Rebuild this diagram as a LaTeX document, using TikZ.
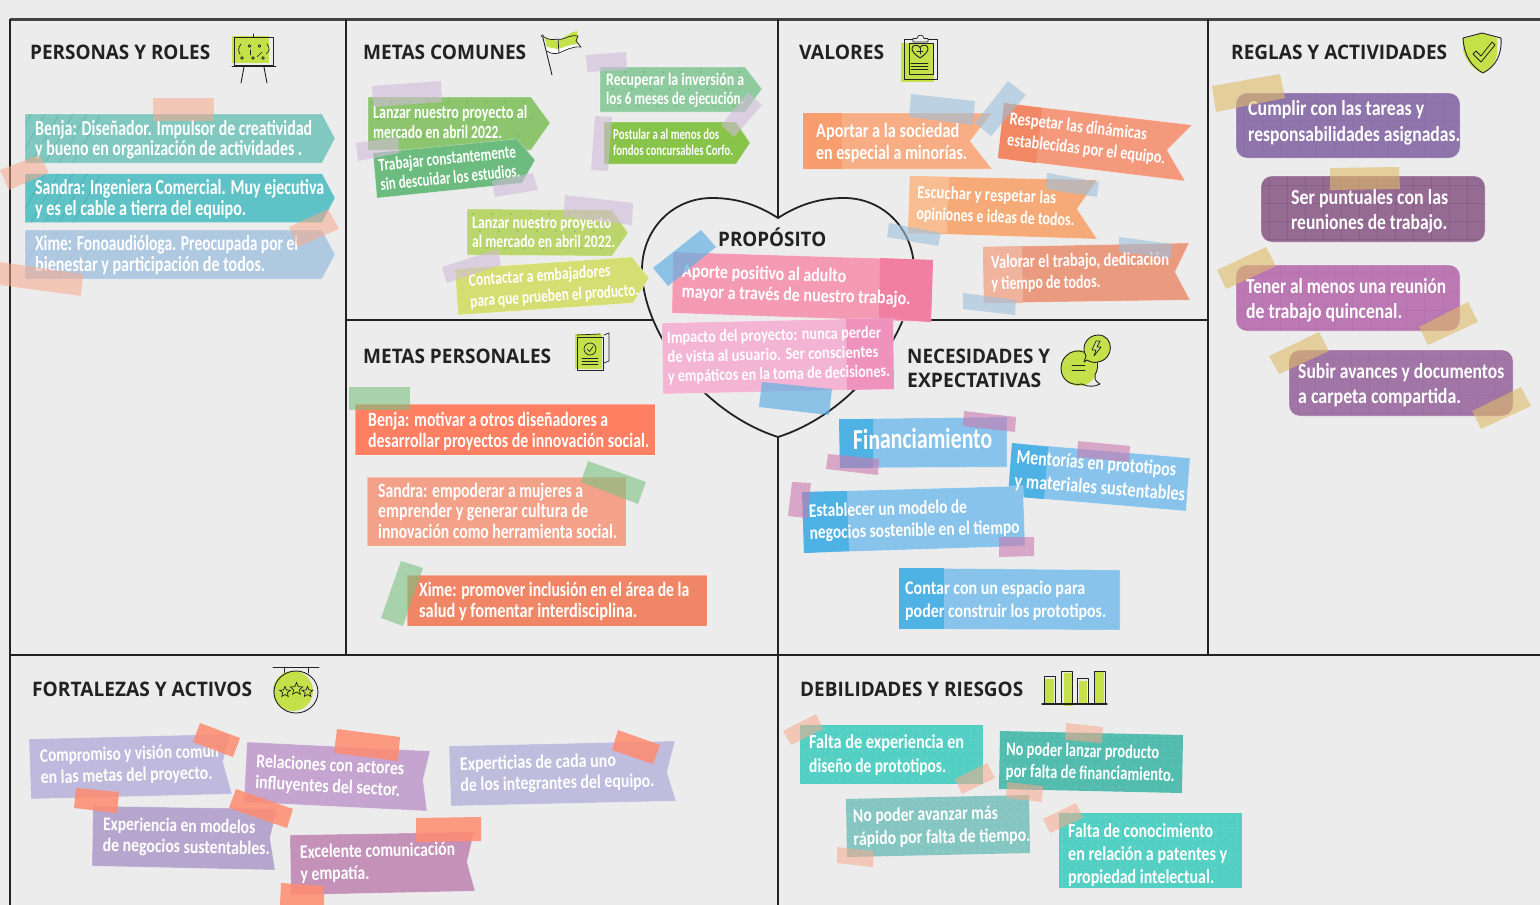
\documentclass[tikz,border=0pt]{standalone}
\usepackage{graphicx}
\usepackage{fontspec}
\newfontfamily\handf{Carlito}
\newfontfamily\headf{Open Sans}
\usetikzlibrary{shapes.geometric}
\definecolor{bgc}{HTML}{ECECEC}
\definecolor{ink}{HTML}{222222}
\definecolor{lime}{HTML}{C5E14A}
\lineskiplimit=-1000pt
\newcommand{\lnw}[2]{\rule{0pt}{14pt}\smash{\resizebox{#1pt}{\height}{#2}}}
% name, x, first baseline y, rotation, size, pitch, lines
\newcommand{\stk}[7]{\path (#2,#3) ++(#4+90:14pt) node[stick,rotate=#4,font={\handf\bfseries\fontsize{\fpeval{#5*1.07}}{#6}\selectfont}] (#1) {#7};}
\newcommand{\hd}[5]{\node[head,font={\headf\bfseries\fontsize{#5}{#5}\selectfont}] (#1) at (#2,#3) {\resizebox{#4pt}{\height}{#1}};}
\tikzset{
 x=1pt,y=-1pt,
 stick/.style={anchor=north west,inner sep=0pt,align=left,text=white},
 head/.style={anchor=base west,inner sep=0pt,text=ink},
 frameln/.style={draw=ink,line width=2.2pt},
 pad/.style={draw=white,draw opacity=.35,line width=.6pt},
 icon/.style={draw=ink,line width=.9pt,line join=round,line cap=round},
 tapeA/.style={fill={rgb,255:red,249;green,169;blue,140},fill opacity=.55},
 tapeP/.style={fill={rgb,255:red,209;green,187;blue,216},fill opacity=.6},
 tapeB/.style={fill={rgb,255:red,156;green,193;blue,221},fill opacity=.6},
 tapeS/.style={fill={rgb,255:red,100;green,177;blue,227},fill opacity=.7},
 tapeT/.style={fill={rgb,255:red,224;green,189;blue,104},fill opacity=.6},
 tapeG/.style={fill={rgb,255:red,121;green,193;blue,128},fill opacity=.6},
 tapeK/.style={fill={rgb,255:red,204;green,121;blue,176},fill opacity=.6},
 tapeO/.style={fill={rgb,255:red,255;green,139;blue,111},fill opacity=.85},
}
\newcommand{\dotsgrid}[4]{\foreach \ix in {0,7.3,...,#3}{\foreach \iy in {0,7.3,...,#4}{\fill[white,fill opacity=.15] (#1+\ix,#2+\iy) circle[radius=1pt];}}}
\newcommand{\greendots}[4]{\foreach \ix in {0,19,...,#3}{\foreach \iy in {0,17,...,#4}{\fill[black!40!green,fill opacity=.3] (#1+\ix+\iy*.4,#2+\iy) circle[radius=1pt];}}}
\newcommand{\hatch}[3]{\foreach \k in {-22,-8,6,20,34,48}{\draw[#3,line width=.5pt,opacity=.3] (#1+\k,#2+49) -- (#1+\k+28,#2);}}
\newcommand{\softgrid}[5]{\begin{scope}\clip[rounded corners=11pt] (#1,#2) rectangle (#3,#4);
\foreach \gx in {0,18,...,230}{\draw[black,opacity=#5,line width=.5pt] (#1+8+\gx,#2) -- (#1+8+\gx,#4);}
\foreach \gy in {0,18,...,70}{\draw[black,opacity=#5,line width=.5pt] (#1,#2+9+\gy) -- (#3,#2+9+\gy);}
\end{scope}}
\begin{document}
\begin{tikzpicture}
\useasboundingbox (0,0) rectangle (1540,905);
\fill[bgc] (0,0) rectangle (1540,905);
% ---- frame
\coordinate (c1) at (10,19.5); \coordinate (c2) at (1540,19.5);
\draw[draw=ink!85,line width=2.2pt] (c1) -- (c2);
\draw[frameln] (10,19) -- (10,905);
\draw[frameln] (346,19) -- (346,655);
\draw[frameln] (778,19) -- (778,905);
\draw[frameln] (1208,19) -- (1208,655);
\draw[frameln] (346,320) -- (1208,320);
\draw[frameln] (10,655) -- (1540,655);
% ---- heart
\draw[draw=ink,line width=1.8pt,fill=bgc] (778,218) .. controls (758,205) and (737,198) .. (712,198) .. controls (672,198) and (642,230) .. (642,270) .. controls (642,330) and (700,412) .. (778,437) .. controls (856,412) and (914,330) .. (914,270) .. controls (914,230) and (884,198) .. (844,198) .. controls (819,198) and (798,205) .. (778,218) -- cycle;
% ---- headings
\hd{PERSONAS Y ROLES}{30}{59}{180}{20}
\hd{METAS COMUNES}{363}{59}{163}{20}
\hd{VALORES}{799}{59}{85}{20}
\hd{REGLAS Y ACTIVIDADES}{1231}{59}{216}{20}
\hd{PROPÓSITO}{718}{246}{108}{20}
\hd{METAS PERSONALES}{363}{363}{188}{20}
\hd{NECESIDADES Y}{907}{363}{143}{20}
\hd{EXPECTATIVAS}{907}{387}{134}{20}
\hd{FORTALEZAS Y ACTIVOS}{32}{696}{220}{20}
\hd{DEBILIDADES Y RIESGOS}{800}{696}{223}{20}
% ---- icon board
\fill[lime] (232,36) rectangle (269,63);
\draw[icon] (234.5,37.5) rectangle (273,65.5);
\draw[icon] (232,66) -- (276,66);
\draw[icon] (244,67) -- (241,83);
\draw[icon] (264,67) -- (267,83);
\draw[icon] (253,34) -- (253,37);
\foreach \p in {(249.5,46),(259.5,46),(242,58),(253,58),(263,58)}{\draw[icon,line width=.7pt] \p circle[radius=1.4pt];}
\draw[icon,line width=.7pt] (241,44) .. controls (238,48) and (238,51) .. (240,54);
\draw[icon,line width=.7pt] (267,44) .. controls (270,48) and (270,51) .. (266,54);
\draw[icon,line width=.7pt] (250,50) -- (250,55);
\draw[icon,line width=.7pt] (257,57) -- (262,52);
% ---- icon flag
\fill[white] (546,46) -- (559,49) -- (559,53) .. controls (555,54) and (551,54) .. (547,51) -- cycle;
\fill[white] (559,47) .. controls (566,46) and (573,44) .. (580,46) -- (581,47) .. controls (573,46) and (566,50) .. (559,53) -- cycle;
\fill[lime] (545,38) -- (558,41) -- (558,49) -- (547,47) -- cycle;
\fill[lime] (558,40) .. controls (565,39) and (570,31) .. (577,31) .. controls (578,36) and (578,40) .. (577,44) .. controls (570,44) and (565,47) .. (558,49) -- cycle;
\draw[icon,line width=.7pt] (544,37) .. controls (549,40) and (553,40) .. (558,39) -- (559,53) .. controls (555,54) and (551,54) .. (547,51);
\draw[icon,line width=.7pt] (558,40) .. controls (565,39) and (572,34) .. (578,36) -- (576,41) -- (581,47) .. controls (573,46) and (566,50) .. (559,53);
\draw[icon] (542.5,36) -- (552,75);
\draw[icon,fill=bgc,line width=.6pt] (542.5,36) circle[radius=1.3pt];
% ---- icon clipboard
\fill[lime] (901,43) rectangle (934,82);
\draw[icon] (904.5,39) rectangle (937,79);
\draw[icon] (909,43) rectangle (933,74);
\draw[icon,fill=bgc,line width=.7pt] (913,42) -- (913,38.5) -- (917,38.5) .. controls (917,34) and (924,34) .. (924,38.5) -- (928,38.5) -- (928,42) -- cycle;
\draw[icon] (920,58) .. controls (914,54) and (912,51) .. (912,48.5) .. controls (912,44.5) and (918,44) .. (920,47.5) .. controls (922,44) and (928,44.5) .. (928,48.5) .. controls (928,51) and (926,54) .. (920,58) -- cycle;
\draw[icon,line width=.7pt] (920,48) -- (920,54) (917,51) -- (923,51);
\draw[icon,line width=.7pt] (911,63) -- (928,63) (911,66) -- (928,66) (911,69) -- (928,69);
% ---- icon shield
\fill[lime] (1463,39) -- (1482,33) -- (1497,38) -- (1497,55) .. controls (1495,64) and (1489,70) .. (1481,73) .. controls (1472,68) and (1465,60) .. (1463,50) -- cycle;
\draw[icon] (1463,38) -- (1482,33) -- (1501,38) .. controls (1502,55) and (1496,66) .. (1483,73) .. controls (1472,67) and (1464,56) .. (1463,38) -- cycle;
\draw[icon,line width=.8pt] (1473,54) -- (1476,51) -- (1481,56) -- (1492,42) -- (1495,45) -- (1481,62) -- cycle;
% ---- icon document
\fill[lime] (575,334) rectangle (602,369);
\draw[icon,line width=.7pt] (604,335) -- (609,333) -- (609,361) -- (604,363);
\draw[icon,line width=.7pt] (577,335) -- (600,334);
\draw[icon] (577,337) rectangle (603,370);
\draw[icon,line width=.7pt] (590,349) circle[radius=6pt];
\draw[icon,line width=.7pt] (587,349) -- (589.5,351.5) -- (593,346.5);
\draw[icon,line width=.7pt] (582,358) -- (598,358) (582,361) -- (598,361) (582,364) -- (598,364);
% ---- icon bubbles
\fill[lime] (1079,368) ellipse[x radius=18pt,y radius=18pt];
\draw[icon] (1089,355) .. controls (1076,345) and (1061,355) .. (1061,368) .. controls (1061,381) and (1072,386) .. (1082,384) .. controls (1087,387) and (1095,387) .. (1100,384) .. controls (1095,381) and (1094,378) .. (1095,375) .. controls (1098,370) and (1098,364) .. (1097,361);
\draw[icon,fill=lime] (1086,356) .. controls (1080,346) and (1088,335) .. (1098,335) .. controls (1114,335) and (1115,359) .. (1098,362) .. controls (1094,363) and (1090,362) .. (1087,360) -- (1084,362) -- cycle;
\draw[icon,fill=bgc!30!lime,line width=.7pt] (1096,341) -- (1092,350) -- (1096,350) -- (1094,356) -- (1101,347) -- (1097,347) -- (1100,341) -- cycle;
\draw[icon] (1072,365) -- (1085,365) (1072,370) -- (1085,370);
% ---- icon sign
\draw[icon] (273,667) -- (319,667) (284,667) -- (284,673) (308,667) -- (308,673);
\fill[lime] (293,691) ellipse[x radius=20pt,y radius=20pt];
\draw[icon] (296,692) ellipse[x radius=22pt,y radius=21pt];
\foreach \sx/\sy/\sr in {285/692/5.5,296.5/689/6.5,307.5/692/5.5}{\node[star,star points=5,star point ratio=2.2,draw=ink,line width=.7pt,minimum size=2*\sr pt,inner sep=0pt] at (\sx,\sy) {};}
% ---- icon bars
\fill[lime] (1044,679) rectangle (1054,704);
\fill[lime] (1064,673) rectangle (1073,706);
\fill[lime] (1079,681) rectangle (1087,704);
\fill[lime] (1094,672) rectangle (1104,704);
\draw[icon,line width=1pt] (1044,704) |- (1055,676) -- (1055,704);
\draw[icon,line width=1pt] (1061,704) |- (1072,671) -- (1072,704);
\draw[icon,line width=1pt] (1077,704) |- (1088,678) -- (1088,704);
\draw[icon,line width=1pt] (1094,704) |- (1105,671) -- (1105,704);
\draw[icon,line width=1.2pt] (1042,704) -- (1107,704);
% ---- PERSONAS Y ROLES
\fill[pad,fill={rgb,255:red,128;green,200;blue,192}] (25,114) -- (322,114) -- (335,138.5) -- (322,163) -- (25,163) -- cycle;
\begin{scope}\clip (25,114) rectangle (100,163);\hatch{25}{114}{teal}\end{scope}
\fill[pad,fill={rgb,255:red,95;green,194;blue,198}] (25,173.5) -- (322,173.5) -- (335,198) -- (322,222.5) -- (25,222.5) -- cycle;
\begin{scope}\clip (25,173.5) rectangle (100,222.5);\hatch{25}{173.5}{teal!90!black}\end{scope}
\fill[pad,fill={rgb,255:red,175;green,201;blue,224}] (25,230) -- (322,230) -- (335,254.5) -- (322,279) -- (25,279) -- cycle;
\begin{scope}\clip (25,230) rectangle (100,279);\hatch{25}{230}{blue!40!white}\end{scope}
\stk{p1}{35}{135}{0}{20}{20.5}{\lnw{277}{Benja: Diseñador. Impulsor de creatividad}\\\lnw{267}{y bueno en organización de actividades .}}
\stk{p2}{35}{194}{0}{20}{21}{\lnw{289}{Sandra: Ingeniera Comercial. Muy ejecutiva}\\\lnw{211}{y es el cable a tierra del equipo.}}
\stk{p3}{35}{250}{0}{20}{21}{\lnw{263}{Xime: Fonoaudióloga. Preocupada por el}\\\lnw{230}{bienestar y participación de todos.}}
\fill[tapeA] (153,98) rectangle (214,121);
\fill[tapeA] (0,170) -- (39,155) -- (49,173) -- (9,190) -- cycle;
\fill[tapeA] (289,227) -- (328,209) -- (339,229) -- (298,247) -- cycle;
\fill[tapeA] (0,262) -- (83,274) -- (81,296) -- (0,285) -- cycle;
% ---- METAS COMUNES
\fill[pad,fill={rgb,255:red,141;green,197;blue,110}] (368,97) -- (531,97) -- (550,123) -- (531,150) -- (368,150) -- cycle;
\begin{scope}\clip (368,97) rectangle (531,150);\greendots{372}{102}{160}{50}\end{scope}
\fill[pad,fill={rgb,255:red,108;green,187;blue,127}] (373,153) -- (517,139) -- (535,160) -- (522,183) -- (377,198) -- cycle;
\fill[pad,fill={rgb,255:red,144;green,203;blue,159}] (600,67) -- (745,67) -- (762,89) -- (745,112) -- (600,112) -- cycle;
\begin{scope}\clip (600,67) rectangle (745,112);\greendots{606}{72}{140}{40}\end{scope}
\fill[pad,fill={rgb,255:red,136;green,195;blue,74}] (604,122) -- (736,122) -- (750,143) -- (736,164) -- (604,164) -- cycle;
\fill[pad,fill={rgb,255:red,185;green,213;blue,108}] (467,209) -- (612,210) -- (628,233) -- (612,256) -- (467,255) -- cycle;
\begin{scope}\clip (467,209) rectangle (612,256);\greendots{473}{214}{140}{40}\end{scope}
\fill[pad,fill={rgb,255:red,213;green,222;blue,114}] (455,269) -- (632,257) -- (649,278) -- (633,303) -- (458,315) -- cycle;
\stk{m1}{373}{118}{0}{17.5}{20}{\lnw{154}{Lanzar nuestro proyecto al}\\\lnw{129}{mercado en abril 2022.}}
\stk{m2}{379}{171}{5.7}{17}{19.5}{\lnw{138}{Trabajar constantemente}\\\lnw{140}{sin descuidar los estudios.}}
\stk{m3}{606}{85}{0}{16.5}{19}{\lnw{138}{Recuperar la inversión a}\\\lnw{138}{los 6 meses de ejecución.}}
\stk{m4}{613}{139}{0}{14}{16}{\lnw{106}{Postular a al menos dos}\\\lnw{120}{fondos concursables Corfo.}}
\stk{m5}{472}{228}{0}{16.5}{19}{\lnw{139}{Lanzar nuestro proyecto}\\\lnw{143}{al mercado en abril 2022.}}
\stk{m6}{469}{286}{3.9}{16.5}{21}{\lnw{142}{Contactar a embajadores}\\\lnw{169}{para que prueben el producto.}}
\fill[tapeP] (372,86) -- (441,81) -- (442,102) -- (373,107) -- cycle;
\fill[tapeP] (356,143) -- (398,137) -- (399,153) -- (358,161) -- cycle;
\fill[tapeP] (492,181) -- (533,173) -- (538,190) -- (495,197) -- cycle;
\fill[tapeP] (586,55) -- (626,52) -- (627,70) -- (587,72) -- cycle;
\fill[tapeP] (721,125) -- (748,93) -- (762,105) -- (734,137) -- cycle;
\fill[tapeP] (595,116) -- (612,117) -- (608,171) -- (591,170) -- cycle;
\fill[tapeP] (565,195) -- (633,203) -- (632,225) -- (563,217) -- cycle;
\fill[tapeP] (442,267) -- (498,249) -- (501,265) -- (447,283) -- cycle;
% ---- VALORES
\fill[pad,fill={rgb,255:red,249;green,173;blue,133}] (803,113) -- (992,113) -- (970,141) -- (992,169) -- (803,169) -- cycle;
\fill[fill={rgb,255:red,248;green,157;blue,110}] (803,113) rectangle (842,169);
\fill[pad,fill={rgb,255:red,244;green,153;blue,123}] (1004,103) -- (1192,125) -- (1167,150) -- (1185,181) -- (998,158) -- cycle;
\fill[fill={rgb,255:red,242;green,135;blue,99}] (1004,103) -- (1042,108) -- (1036,163) -- (998,158) -- cycle;
\fill[pad,fill={rgb,255:red,246;green,170;blue,119}] (910,176) -- (1097,180) -- (1077,209) -- (1097,239) -- (908,233) -- cycle;
\fill[fill={rgb,255:red,248;green,190;blue,146}] (910,176) -- (949,177) -- (947,233) -- (908,233) -- cycle;
\fill[pad,fill={rgb,255:red,234;green,154;blue,126}] (983,247) -- (1189,243) -- (1175,272) -- (1190,300) -- (984,303) -- cycle;
\fill[fill={rgb,255:red,240;green,179;blue,158}] (983,247) -- (1022,246) -- (1023,303) -- (984,303) -- cycle;
\stk{v1}{816}{137}{0}{19}{22}{\lnw{143}{Aportar a la sociedad}\\\lnw{151}{en especial a minorías.}}
\stk{v2}{1009}{124}{-6.6}{17}{21.5}{\lnw{138}{Respetar las dinámicas}\\\lnw{159}{establecidas por el equipo.}}
\stk{v3}{917}{198}{-2.3}{17}{21.5}{\lnw{139}{Escuchar y respetar las}\\\lnw{158}{opiniones e ideas de todos.}}
\stk{v4}{991}{268}{1}{17.5}{21.5}{\lnw{178}{Valorar el trabajo, dedicación}\\\lnw{109}{y tiempo de todos.}}
\fill[tapeB] (911,94) -- (975,101) -- (973,125) -- (909,117) -- cycle;
\fill[tapeB] (1008,81) -- (1026,95) -- (991,136) -- (975,123) -- cycle;
\fill[tapeB] (1047,173) -- (1099,182) -- (1097,197) -- (1046,189) -- cycle;
\fill[tapeB] (889,223) -- (941,233) -- (938,246) -- (887,237) -- cycle;
\fill[tapeB] (1119,237) -- (1172,244) -- (1171,258) -- (1119,252) -- cycle;
\fill[tapeB] (963,293) -- (1016,300) -- (1015,315) -- (963,309) -- cycle;
% ---- PROPOSITO
\fill[pad,fill={rgb,255:red,244;green,154;blue,179}] (673,252) -- (933,260) -- (931,322) -- (672,313) -- cycle;
\fill[fill={rgb,255:red,240;green,127;blue,163}] (880,258) -- (933,260) -- (931,322) -- (879,318) -- cycle;
\fill[pad,fill={rgb,255:red,244;green,181;blue,213}] (662,323) -- (893,318) -- (894,389) -- (663,394) -- cycle;
\fill[fill={rgb,255:red,239;green,146;blue,190}] (846,319) -- (893,318) -- (894,389) -- (847,390) -- cycle;
\stk{h1}{682}{277}{-1.8}{18}{20.5}{\lnw{164}{Aporte positivo al adulto}\\\lnw{229}{mayor a través de nuestro trabajo.}}
\stk{h2}{667}{343}{1.4}{16}{19.5}{\lnw{214}{Impacto del proyecto: nunca perder}\\\lnw{211}{de vista al usuario. Ser conscientes}\\\lnw{222}{y empáticos en la toma de decisiones.}}
\fill[tapeS] (701,230) -- (716,247) -- (668,286) -- (653,268) -- cycle;
\fill[tapeS] (762,382) -- (832,389) -- (829,415) -- (759,407) -- cycle;
% ---- REGLAS
\fill[pad,fill={rgb,255:red,143;green,117;blue,171},rounded corners=11pt] (1236,93) rectangle (1460,158);
\fill[pad,fill={rgb,255:red,149;green,106;blue,147},rounded corners=11pt] (1261,176) rectangle (1485,242);
\fill[pad,fill={rgb,255:red,188;green,120;blue,179},rounded corners=11pt] (1236,265) rectangle (1460,331);
\fill[pad,fill={rgb,255:red,161;green,117;blue,166},rounded corners=11pt] (1289,350) rectangle (1513,416);
\softgrid{1236}{93}{1460}{158}{.03}
\softgrid{1261}{176}{1485}{242}{.09}
\softgrid{1236}{265}{1460}{331}{.03}
\softgrid{1289}{350}{1513}{416}{.03}
\stk{r1}{1248}{115}{0}{20}{26}{\lnw{176}{Cumplir con las tareas y}\\\lnw{212}{responsabilidades asignadas.}}
\stk{r2}{1291}{204}{0}{20}{25}{\lnw{157}{Ser puntuales con las}\\\lnw{156}{reuniones de trabajo.}}
\stk{r3}{1246}{293}{0}{20}{25}{\lnw{200}{Tener al menos una reunión}\\\lnw{156}{de trabajo quincenal.}}
\stk{r4}{1298}{378}{0}{20}{25}{\lnw{206}{Subir avances y documentos}\\\lnw{163}{a carpeta compartida.}}
\fill[tapeT] (1212,86) -- (1280,74) -- (1285,98) -- (1216,112) -- cycle;
\fill[tapeT] (1330,168) -- (1399,167) -- (1400,189) -- (1330,190) -- cycle;
\fill[tapeT] (1217,270) -- (1266,247) -- (1276,266) -- (1226,289) -- cycle;
\fill[tapeT] (1419,327) -- (1468,302) -- (1478,322) -- (1428,345) -- cycle;
\fill[tapeT] (1269,356) -- (1319,332) -- (1329,351) -- (1279,374) -- cycle;
\fill[tapeT] (1472,411) -- (1521,387) -- (1531,406) -- (1481,429) -- cycle;
% ---- METAS PERSONALES
\fill[pad,fill={rgb,255:red,255;green,127;blue,98}] (355,404) rectangle (655,455);
\fill[pad,fill={rgb,255:red,244;green,161;blue,138}] (367,477) rectangle (626,546);
\fill[pad,fill={rgb,255:red,241;green,134;blue,103}] (407,575) rectangle (707,626);
\stk{q1}{368}{426}{0}{19}{21}{\lnw{240}{Benja: motivar a otros diseñadores a}\\\lnw{281}{desarrollar proyectos de innovación social.}}
\stk{q2}{378}{497}{0}{19}{20.5}{\lnw{205}{Sandra: empoderar a mujeres a}\\\lnw{210}{emprender y generar cultura de}\\\lnw{239}{innovación como herramienta social.}}
\stk{q3}{419}{596}{0}{19}{21}{\lnw{270}{Xime: promover inclusión en el área de la}\\\lnw{218}{salud y fomentar interdisciplina.}}
\fill[tapeG] (349,387) rectangle (410,410);
\fill[tapeG] (588,461) -- (646,482) -- (638,504) -- (581,482) -- cycle;
\fill[tapeG] (401,561) -- (423,568) -- (403,626) -- (381,618) -- cycle;
% ---- NECESIDADES
\fill[pad,fill={rgb,255:red,135;green,195;blue,234}] (839,419) -- (1007,417) -- (1007,467) -- (840,468) -- cycle;
\fill[fill={rgb,255:red,79;green,178;blue,228}] (839,419) -- (873,419) -- (873,468) -- (840,468) -- cycle;
\fill[pad,fill={rgb,255:red,135;green,195;blue,234}] (1012,443) -- (1190,458) -- (1186,511) -- (1008,496) -- cycle;
\fill[fill={rgb,255:red,79;green,178;blue,228}] (1012,443) -- (1048,447) -- (1044,499) -- (1008,496) -- cycle;
\fill[pad,fill={rgb,255:red,135;green,195;blue,234}] (802,492) -- (1023,486) -- (1025,546) -- (804,553) -- cycle;
\fill[fill={rgb,255:red,79;green,178;blue,228}] (802,492) -- (847,491) -- (849,551) -- (804,553) -- cycle;
\fill[pad,fill={rgb,255:red,135;green,195;blue,234}] (899,568) -- (1120,570) -- (1120,630) -- (899,629) -- cycle;
\fill[fill={rgb,255:red,79;green,178;blue,228}] (899,568) -- (944,568) -- (944,629) -- (899,629) -- cycle;
\stk{n1}{853}{449}{0.5}{27}{27}{\lnw{139}{Financiamiento}}
\stk{n2}{1016}{463}{-4.7}{19}{24}{\lnw{160}{Mentorías en prototipos}\\\lnw{171}{y materiales sustentables}}
\stk{n3}{809}{517}{1.6}{18}{22}{\lnw{158}{Establecer un modelo de}\\\lnw{210}{negocios sostenible en el tiempo}}
\stk{n4}{905}{594}{0}{18}{23}{\lnw{180}{Contar con un espacio para}\\\lnw{201}{poder construir los prototipos.}}
\fill[tapeK] (964,411) -- (1016,417) -- (1015,432) -- (963,426) -- cycle;
\fill[tapeK] (1078,441) -- (1130,446) -- (1129,462) -- (1077,457) -- cycle;
\fill[tapeK] (828,454) -- (879,459) -- (878,475) -- (826,469) -- cycle;
\fill[tapeK] (792,482) -- (811,483) -- (807,518) -- (788,516) -- cycle;
\fill[tapeK] (999,537) -- (1034,537) -- (1034,556) -- (999,557) -- cycle;
% ---- FORTALEZAS
\fill[pad,fill={rgb,255:red,191;green,186;blue,221}] (29,739) -- (230,734) -- (223,762) -- (232,794) -- (31,799) -- cycle;
\fill[pad,fill={rgb,255:red,197;green,164;blue,207}] (247,742) -- (430,751) -- (423,780) -- (427,811) -- (244,802) -- cycle;
\fill[pad,fill={rgb,255:red,192;green,188;blue,222}] (449,746) -- (675,741) -- (667,772) -- (676,801) -- (451,806) -- cycle;
\fill[pad,fill={rgb,255:red,182;green,166;blue,206}] (93,806) -- (277,809) -- (270,838) -- (275,870) -- (92,866) -- cycle;
\fill[pad,fill={rgb,255:red,196;green,146;blue,184}] (290,835) -- (474,832) -- (467,862) -- (475,891) -- (291,895) -- cycle;
\stk{f1}{40}{762}{1.6}{18}{21.5}{\lnw{179}{Compromiso y visión común}\\\lnw{172}{en las metas del proyecto.}}
\stk{f2}{256}{767}{-3}{18}{21.5}{\lnw{148}{Relaciones con actores}\\\lnw{145}{influyentes del sector.}}
\stk{f3}{460}{770}{1.3}{18}{21}{\lnw{156}{Experticias de cada uno}\\\lnw{194}{de los integrantes del equipo.}}
\stk{f4}{103}{830}{-1.3}{18}{21}{\lnw{152}{Experiencia en modelos}\\\lnw{167}{de negocios sustentables.}}
\stk{f5}{300}{858}{1}{18}{22}{\lnw{155}{Excelente comunicación}\\\lnw{69}{y empatía.}}
\fill[tapeO] (200,723) -- (240,738) -- (233,757) -- (193,742) -- cycle;
\fill[tapeO] (337,729) -- (400,737) -- (398,761) -- (334,753) -- cycle;
\fill[tapeO] (618,730) -- (660,745) -- (653,764) -- (612,750) -- cycle;
\fill[tapeO] (76,788) -- (119,792) -- (117,813) -- (74,808) -- cycle;
\fill[tapeO] (236,789) -- (293,809) -- (287,828) -- (229,808) -- cycle;
\fill[tapeO] (416,818) -- (481,817) -- (481,841) -- (416,842) -- cycle;
\fill[tapeO] (281,883) -- (324,886) -- (324,905) -- (280,905) -- cycle;
% ---- DEBILIDADES
\fill[fill={rgb,255:red,84;green,207;blue,195}] (800,725) rectangle (983,784);
\begin{scope}\clip (800,725) rectangle (983,784);\dotsgrid{803}{729}{180}{55}\end{scope}
\fill[fill={rgb,255:red,82;green,188;blue,174}] (1000,731) -- (1183,735) -- (1182,793) -- (999,789) -- cycle;
\begin{scope}\clip (1000,731) -- (1183,735) -- (1182,793) -- (999,789) -- cycle;\dotsgrid{1003}{736}{178}{55}\end{scope}
\fill[fill={rgb,255:red,133;green,198;blue,194}] (846,799) -- (1029,795) -- (1030,853) -- (847,857) -- cycle;
\begin{scope}\clip (846,799) -- (1029,795) -- (1030,853) -- (847,857) -- cycle;\dotsgrid{849}{800}{178}{55}\end{scope}
\fill[fill={rgb,255:red,84;green,207;blue,195}] (1059,813) rectangle (1242,888);
\begin{scope}\clip (1059,813) rectangle (1242,888);\dotsgrid{1062}{817}{180}{70}\end{scope}
\stk{d1}{809}{748}{0}{18.5}{24}{\lnw{155}{Falta de experiencia en}\\\lnw{137}{diseño de prototipos.}}
\stk{d2}{1006}{755}{-1.4}{18}{22}{\lnw{153}{No poder lanzar producto}\\\lnw{169}{por falta de financiamiento.}}
\stk{d3}{853}{822}{1.3}{18}{23}{\lnw{145}{No poder avanzar más}\\\lnw{177}{rápido por falta de tiempo.}}
\stk{d4}{1068}{837}{0}{18.5}{23}{\lnw{145}{Falta de conocimiento}\\\lnw{159}{en relación a patentes y}\\\lnw{146}{propiedad intelectual.}}
\fill[tapeA] (783,731) -- (816,714) -- (823,729) -- (791,745) -- cycle;
\fill[tapeA] (955,779) -- (987,763) -- (995,778) -- (962,794) -- cycle;
\fill[tapeA] (1066,723) -- (1103,727) -- (1102,743) -- (1065,740) -- cycle;
\fill[tapeA] (1007,782) -- (1043,786) -- (1042,802) -- (1006,798) -- cycle;
\fill[tapeA] (837,847) -- (874,851) -- (873,867) -- (837,863) -- cycle;
\fill[tapeA] (1043,819) -- (1076,803) -- (1083,818) -- (1050,833) -- cycle;
\end{tikzpicture}
\end{document}
